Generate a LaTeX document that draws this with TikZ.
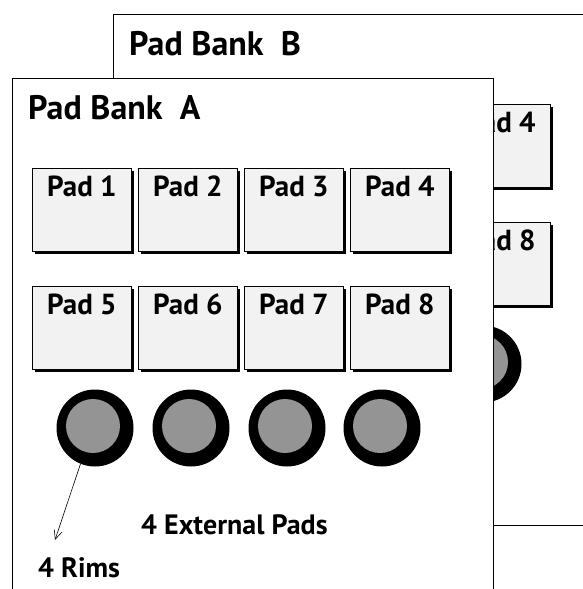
\documentclass[tikz,border=0pt]{standalone}
\usepackage{fontspec}
\setmainfont{PT Sans}
\usetikzlibrary{arrows.meta}
\tikzset{
  frame/.style={draw=black, line width=0.9pt, fill=white},
  padbox/.style={draw=black, line width=0.8pt, fill=black!5, minimum width=99pt, minimum height=83pt, inner sep=0pt, anchor=north west},
  padshadow/.style={fill=black},
  padlabel/.style={font=\fontsize{29}{32}\selectfont\bfseries, inner sep=0pt},
  titlelabel/.style={font=\fontsize{34}{38}\selectfont\bfseries, inner sep=0pt, anchor=west},
  notelabel/.style={font=\fontsize{28}{31}\selectfont\bfseries, inner sep=0pt, anchor=west},
  ring/.style={circle, fill=black, minimum size=77pt, inner sep=0pt},
  ringcore/.style={fill=black!42},
}
% #1 bank letter, #2 list of pads n/x/y, #3 list of rims n/x
\newcommand\drawpadbank[3]{%
  \draw[frame] (12,78) rectangle (493,589);
  \node[titlelabel] (title) at (28,108) {Pad Bank\ \ #1};
  \foreach \n/\x/\y in {#2}{
    \fill[padshadow] (\x+2.5,\y+2.5) rectangle (\x+101.5,\y+85.5);
    \node[padbox] (p\n) at (\x,\y) {};
    \node[padlabel] at ([yshift=-18pt]p\n.north) {Pad \n};
  }
  \foreach \n/\x in {#3}{
    \node[ring] (c\n) at (\x,428) {};
    \fill[ringcore] (c\n) ++(-2,-2) circle[radius=27pt];
  }
}
\begin{document}
\begin{tikzpicture}[x=1pt,y=-1pt]
  \useasboundingbox (0,0) rectangle (583,589);
  \clip (0,0) rectangle (583,589);
  \begin{scope}[shift={(101,-64)}, name prefix=b-]
    \drawpadbank{B}{4/350/168,8/350/286}{4/382}
  \end{scope}
  \begin{scope}[name prefix=a-]
    \drawpadbank{A}{1/32/168,2/138/168,3/244/168,4/350/168,5/32/286,6/138/286,7/244/286,8/350/286}{1/95,2/191,3/287,4/382}
  \end{scope}
  \node[notelabel] (ext) at (141,525) {4 External Pads};
  \node[notelabel] (rims) at (38,568) {4 Rims};
  \coordinate (rimtip) at (55,540);
  \draw[line width=0.6pt, -{Straight Barb[length=9pt,width=8pt]}] (a-c1.248) -- (rimtip);
\end{tikzpicture}
\end{document}
